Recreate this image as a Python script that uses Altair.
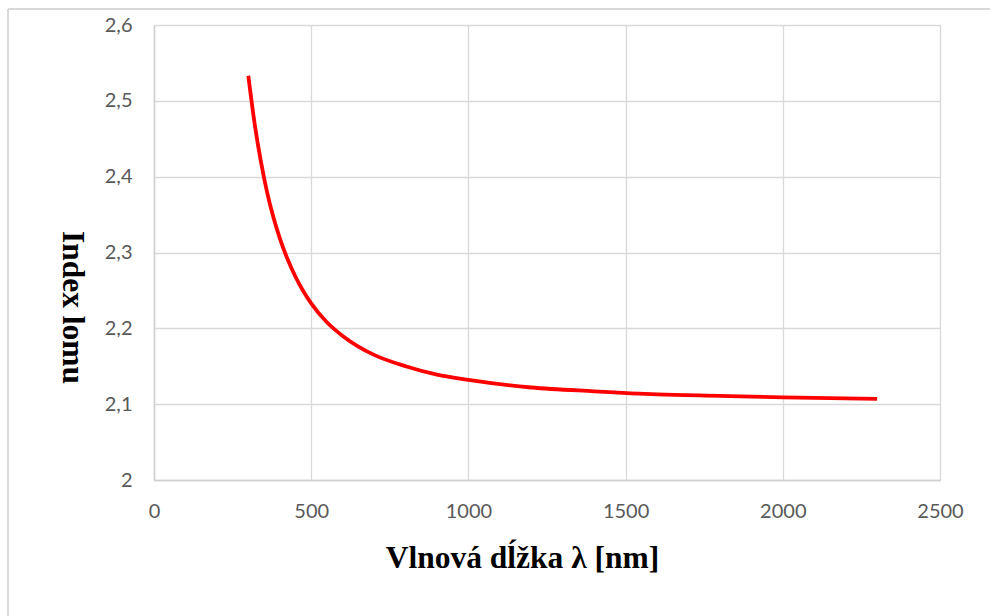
import altair as alt
import pandas as pd

# wavelength [nm] and refractive index
wavelength = [300, 320, 340, 360, 380, 400, 425, 450, 475, 500, 550, 600, 650, 700,
              800, 900, 1000, 1200, 1400, 1600, 1800, 2000, 2300]
index_n = [2.533, 2.470, 2.420, 2.379, 2.346, 2.319, 2.291, 2.268, 2.249, 2.233, 2.208,
           2.190, 2.176, 2.165, 2.150, 2.139, 2.132, 2.122, 2.117, 2.113, 2.111, 2.109, 2.107]
x_ticks = [0, 500, 1000, 1500, 2000, 2500]
y_ticks = [2.0, 2.1, 2.2, 2.3, 2.4, 2.5, 2.6]

df = pd.DataFrame({"wl": wavelength, "n": index_n})

y_label_expr = "replace(format(datum.value, '.1~f'), '.', ',')"
x_label_expr = "format(datum.value, 'd')"

line = alt.Chart(df).mark_line(color="#ff0000", strokeWidth=3.8, interpolate="monotone").encode(
    x=alt.X("wl:Q", scale=alt.Scale(domain=[0, 2500], nice=False),
            axis=alt.Axis(values=x_ticks, labelExpr=x_label_expr, labelFlush=False,
                          title="Vlnová dĺžka λ [nm]",
                          titleX=368, titleY=62, titleAlign="center")),
    y=alt.Y("n:Q", scale=alt.Scale(domain=[2.0, 2.6], nice=False, zero=False),
            axis=alt.Axis(values=y_ticks, labelExpr=y_label_expr, labelFlush=False,
                          title="Index lomu", titleAngle=90, titleX=-83, titleY=282,
                          titleAlign="center", titleBaseline="middle")),
)

border_top = alt.Chart(df).mark_rule(color="#d9d9d9", strokeWidth=2).encode(
    x=alt.value(-146), x2=alt.value(860), y=alt.value(-16)
)
border_left = alt.Chart(df).mark_rule(color="#d9d9d9", strokeWidth=2).encode(
    x=alt.value(-146), y=alt.value(-16), y2=alt.value(620)
)

chart = alt.layer(border_top, border_left, line).properties(
    width=786, height=455,
    autosize=alt.AutoSizeParams(type="none"),
    padding={"left": 154, "top": 25, "right": 50, "bottom": 136},
    background="white",
).configure_view(stroke=None).configure_axis(
    grid=True, gridColor="#d9d9d9", gridWidth=1.3,
    domainColor="#cfcfcf", domainWidth=1.5, ticks=False,
    labelFont="Lato", labelFontSize=20, labelColor="#595959",
    titleFont="Liberation Serif", titleFontSize=31.5, titleFontWeight="bold", titleColor="#000000",
).configure_axisX(labelPadding=21, domain=True).configure_axisY(labelPadding=22, domain=True)

chart.save("out.html", embed_options={"renderer": "svg", "actions": False})
